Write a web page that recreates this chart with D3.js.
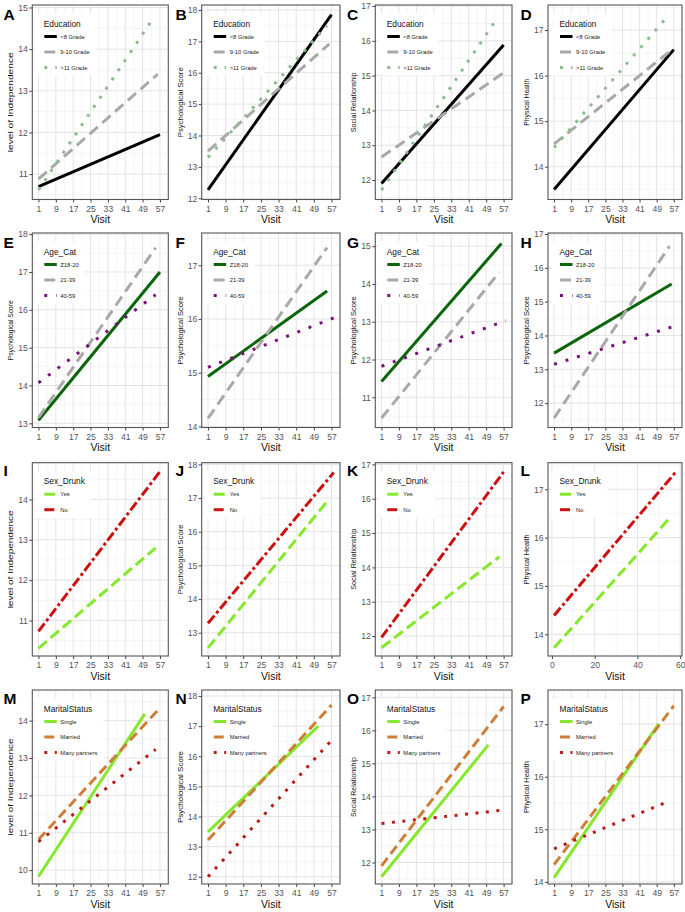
<!DOCTYPE html>
<html><head><meta charset="utf-8">
<script src="https://cdn.jsdelivr.net/npm/d3@7"></script>
<style>body{margin:0;background:#fff} svg{display:block;font-family:"Liberation Sans",Arial,sans-serif}</style>
</head><body><svg id="c" width="685" height="912"></svg>
<script>
// ---------- DATA ----------
const panelLetters = ["A","B","C","D","E","F","G","H","I","J","K","L","M","N","O","P"];
const yAxisTitles = [
  "level of Independence","Psychological Score","Social Relationship","Physical Health",
  "Psychological Score","Psychological Score","Psychological Score","Psychological Score",
  "level of Independence","Psychological Score","Social Relationship","Physical Health",
  "level of Independence","Psychological Score","Social Relationship","Physical Health"];
const xAxisTitle = "Visit";
const visitTicks = [1, 9, 17, 25, 33, 41, 49, 57];
const visitTicksL = [0, 20, 40, 60];
const xDataRange = [1, 58];

const legendTitles = ["Education", "Age_Cat", "Sex_Drunk", "MaritalStatus"];
const educationGroups = ["<8 Grade", "9-10 Grade", ">11 Grade"];
const ageGroups = ["Z18-20", "21-39", "40-59"];
const sexDrunkGroups = ["Yes", "No"];
const maritalGroups = ["Single", "Married", "Many partners"];

const yTicksA = [11,12,13,14,15], yTicksB = [12,13,14,15,16,17,18], yTicksC = [12,13,14,15,16,17], yTicksD = [14,15,16,17];
const yTicksE = [13,14,15,16,17,18], yTicksF = [14,15,16,17], yTicksG = [11,12,13,14,15], yTicksH = [12,13,14,15,16,17];
const yTicksI = [11,12,13,14], yTicksJ = [13,14,15,16,17,18], yTicksK = [12,13,14,15,16,17], yTicksL = [14,15,16,17];
const yTicksM = [10,11,12,13,14], yTicksN = [12,13,14,15,16,17,18], yTicksO = [12,13,14,15,16,17], yTicksP = [14,15,16,17];

const yLimits = [
  [10.39,15.06],[11.96,18.16],[11.44,17.03],[13.28,17.55],
  [12.89,18.03],[13.98,17.60],[10.20,15.35],[11.28,17.03],
  [10.12,14.91],[12.31,18.05],[11.42,17.05],[13.55,17.55],
  [9.63,14.82],[11.76,18.20],[11.35,17.22],[13.96,17.65]];

// series: [visit, predicted score] at start and end of each fitted line
const seriesA = [[[1,10.70],[57,11.95]], [[1,10.88],[56,13.40]], [[1,10.62],[54,14.75]]];
const seriesB = [[[1,12.27],[57,17.85]], [[1,13.50],[56,16.92]], [[1,13.30],[55,17.50]]];
const seriesC = [[[1,11.90],[57,15.88]], [[1,12.66],[57,15.08]], [[1,11.71],[54,16.65]]];
const seriesD = [[[1,13.50],[57,16.57]], [[1,14.50],[57,16.60]], [[1,14.42],[53,17.24]]];
const seriesE = [[[1,13.08],[57,17.00]], [[1,13.15],[55,17.64]], [[1,14.07],[55,16.40]]];
const seriesF = [[[1,14.93],[55,16.52]], [[1,14.15],[55,17.33]], [[1,15.10],[58,16.02]]];
const seriesG = [[[1,11.42],[56,15.07]], [[1,10.45],[55,14.31]], [[1,11.82],[58,13.03]]];
const seriesH = [[[1,13.48],[56,15.52]], [[1,11.56],[55,16.64]], [[1,13.15],[57,14.27]]];
const seriesI = [[[1,10.31],[55,12.80]], [[1,10.73],[57,14.69]]];
const seriesJ = [[[1,12.55],[55,16.90]], [[1,13.28],[58,17.76]]];
const seriesK = [[[1,11.66],[55,14.31]], [[1,11.96],[57,16.78]]];
const seriesL = [[[1,13.72],[55,16.40]], [[1,14.39],[58,17.36]]];
const seriesM = [[[1,9.83],[50,14.18]], [[1,10.82],[57,14.34]], [[1,10.76],[55,13.23]]];
const seriesN = [[[1,13.49],[51,17.00]], [[1,13.22],[57,17.70]], [[1,12.00],[57,16.53]]];
const seriesO = [[[1,11.57],[50,15.56]], [[1,11.90],[57,16.72]], [[1,13.18],[56,13.58]]];
const seriesP = [[[1,14.08],[50,17.01]], [[1,14.33],[57,17.35]], [[1,14.63],[55,15.54]]];

// ---------- STYLE / LAYOUT ----------
const rowGroups = [educationGroups, ageGroups, sexDrunkGroups, maritalGroups];
const rowColors = [["#000000","#A9A9A9","#8FBC8F"],["#0B650B","#A9A9A9","#7B127B"],["#86E82C","#CC1111"],["#86E82C","#CD7F3A","#BB1A1A"]];
const rowDashes = [[null,"11,6","3,8"],[null,"11,6","3,9"],["11,5","10,3,3,3"],[null,"10,5","3,7.5"]];
const allSeries = [seriesA,seriesB,seriesC,seriesD,seriesE,seriesF,seriesG,seriesH,seriesI,seriesJ,seriesK,seriesL,seriesM,seriesN,seriesO,seriesP];
const allYTicks = [yTicksA,yTicksB,yTicksC,yTicksD,yTicksE,yTicksF,yTicksG,yTicksH,yTicksI,yTicksJ,yTicksK,yTicksL,yTicksM,yTicksN,yTicksO,yTicksP];
const yTitleLen = [100,70,60,47,60,68,68,68,98,70,61,50,97,72,60,52];
const colLeft = [32.3, 201.7, 375.3, 548], colRight = [168.3, 340, 512, 682];
const rowTop = [5, 233, 462.7, 690], rowBottom = [199.5, 427.5, 656, 884];
const letterX = [3.5, 175.5, 347, 520.5];

const svg = d3.select("#c");
svg.append("rect").attr("width",685).attr("height",912).attr("fill","#fff");

allSeries.forEach((series, i) => {
  const r = Math.floor(i/4), c = i % 4;
  const L = colLeft[c], R = colRight[c], T = rowTop[r], B = rowBottom[r];
  const g = svg.append("g");
  const dr = xDataRange[1]-xDataRange[0];
  const x = d3.scaleLinear().domain([xDataRange[0]-0.05*dr, xDataRange[1]+0.05*dr]).range([L, R]);
  const y = d3.scaleLinear().domain(yLimits[i]).range([B, T]);
  const xt = (i === 11) ? visitTicksL : visitTicks;
  const yt = allYTicks[i];
  const xStep = xt[1]-xt[0];
  const xMinor = d3.range(xt[0]-xStep/2, x.domain()[1], xStep).filter(v => v > x.domain()[0]);
  const yMinor = d3.range(Math.floor(y.domain()[0])+0.5, y.domain()[1], 1).filter(v => v > y.domain()[0]);
  // grid
  const grid = g.append("g");
  grid.selectAll(".xm").data(xMinor).enter().append("line")
    .attr("x1",d=>x(d)).attr("x2",d=>x(d)).attr("y1",T).attr("y2",B).attr("stroke","#EEEEEE").attr("stroke-width",0.6);
  grid.selectAll(".ym").data(yMinor).enter().append("line")
    .attr("y1",d=>y(d)).attr("y2",d=>y(d)).attr("x1",L).attr("x2",R).attr("stroke","#EEEEEE").attr("stroke-width",0.6);
  grid.selectAll(".xM").data(xt.filter(v=>v>=x.domain()[0]&&v<=x.domain()[1])).enter().append("line")
    .attr("x1",d=>x(d)).attr("x2",d=>x(d)).attr("y1",T).attr("y2",B).attr("stroke","#E4E4E4").attr("stroke-width",1);
  grid.selectAll(".yM").data(yt).enter().append("line")
    .attr("y1",d=>y(d)).attr("y2",d=>y(d)).attr("x1",L).attr("x2",R).attr("stroke","#E4E4E4").attr("stroke-width",1);
  // lines
  const clipId = "clip"+i;
  g.append("clipPath").attr("id",clipId).append("rect").attr("x",L).attr("y",T).attr("width",R-L).attr("height",B-T);
  const line = d3.line().x(d=>x(d[0])).y(d=>y(d[1]));
  const lg = g.append("g").attr("clip-path",`url(#${clipId})`);
  series.forEach((s,k) => {
    lg.append("path").attr("d", line(s)).attr("fill","none")
      .attr("stroke", rowColors[r][k]).attr("stroke-width", 3)
      .attr("stroke-dasharray", rowDashes[r][k]);
  });
  // axes
  const ax = g.append("g").attr("transform",`translate(0,${B})`)
    .call(d3.axisBottom(x).tickValues(xt).tickSize(3).tickPadding(3).tickFormat(d3.format("d")));
  const ay = g.append("g").attr("transform",`translate(${L},0)`)
    .call(d3.axisLeft(y).tickValues(yt).tickSize(3).tickPadding(1.5).tickFormat(d3.format("d")));
  [ax, ay].forEach(a => {
    a.select(".domain").remove();
    a.selectAll("line").attr("stroke","#444");
    a.selectAll("text").attr("fill","#555").attr("font-size",8.6).attr("font-family",'"Liberation Sans",Arial,sans-serif');
  });
  // border
  g.append("rect").attr("x",L).attr("y",T).attr("width",R-L).attr("height",B-T)
    .attr("fill","none").attr("stroke","#555").attr("stroke-width",1.1);
  // titles
  g.append("text").attr("x",(L+R)/2).attr("y",B+23.5).attr("text-anchor","middle")
    .attr("font-size",10.5).attr("fill","#111").text(xAxisTitle);
  const cy = (T+B)/2, tx = L-22;
  g.append("text").attr("transform",`translate(${tx},${cy}) rotate(-90)`).attr("text-anchor","middle")
    .attr("dy","0.35em").attr("font-size",8).attr("fill","#111")
    .attr("textLength", yTitleLen[i]).attr("lengthAdjust","spacingAndGlyphs").text(yAxisTitles[i]);
  g.append("text").attr("x",letterX[c]).attr("y",r*228+20).attr("font-size",15.5).attr("font-weight","bold")
    .attr("fill","#000").text(panelLetters[i]);
  // legend
  const leg = g.append("g");
  const bg = leg.append("rect").attr("fill","#fff");
  leg.append("text").attr("x",L+11.5).attr("y",T+21.5).attr("font-size",8.3).attr("fill","#111").text(legendTitles[r]);
  rowGroups[r].forEach((lab,k) => {
    const yy = T+31.5+k*15.5;
    leg.append("line").attr("x1",L+12).attr("x2",L+24.5).attr("y1",yy).attr("y2",yy)
      .attr("stroke",rowColors[r][k]).attr("stroke-width",3).attr("stroke-dasharray",rowDashes[r][k]);
    leg.append("text").attr("x",L+28).attr("y",yy+2).attr("font-size",5.8).attr("fill","#222").text(lab);
  });
  const bb = leg.node().getBBox();
  bg.attr("x",L+3.5).attr("y",bb.y-5).attr("width",bb.x+bb.width+6-(L+3.5)).attr("height",bb.height+10);
});
</script></body></html>
